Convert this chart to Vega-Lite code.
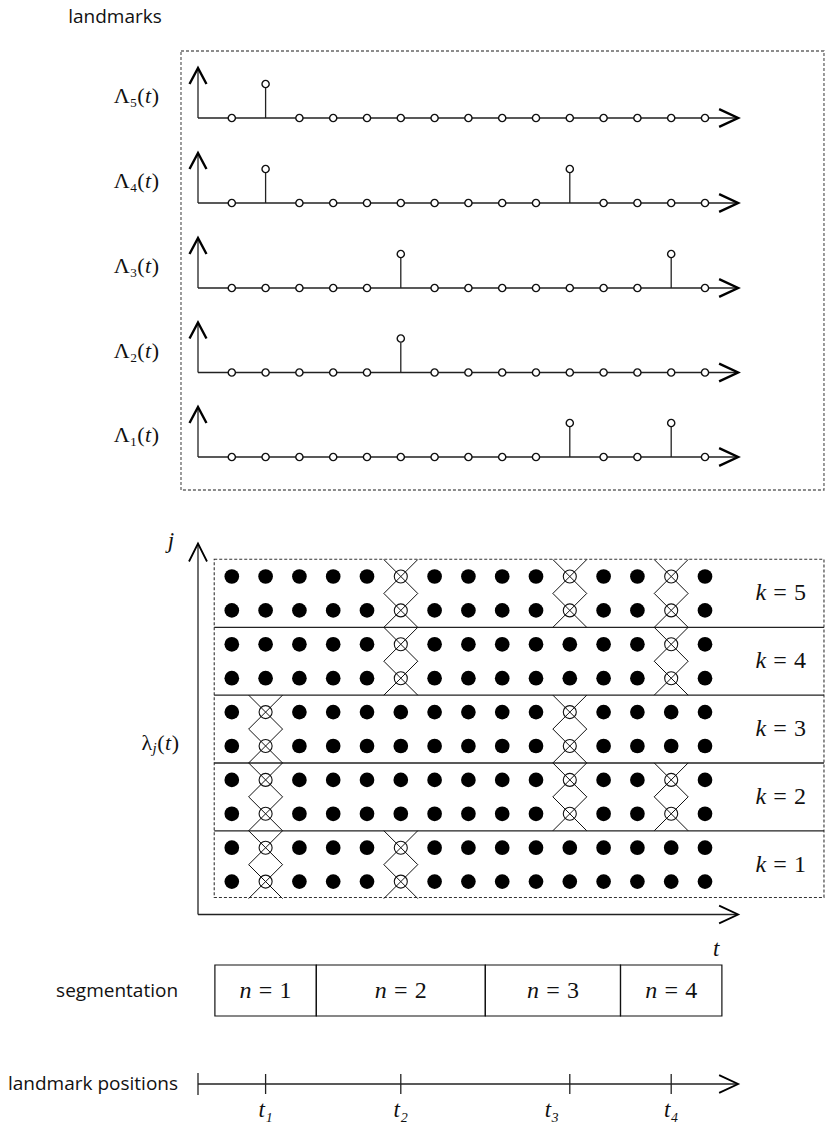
{
"$schema": "https://vega.github.io/schema/vega-lite/v6.json",
"width": 826, "height": 1124,
"autosize": {"type": "fit", "contains": "padding"},
"padding": 0,
"background": "white",
"config": {"view": {"stroke": null}},
"datasets": {
"grid": [
{"t":1,"y":576.5,"c":0},{"t":2,"y":576.5,"c":0},{"t":3,"y":576.5,"c":0},{"t":4,"y":576.5,"c":0},{"t":5,"y":576.5,"c":0},{"t":6,"y":576.5,"c":1},{"t":7,"y":576.5,"c":0},{"t":8,"y":576.5,"c":0},{"t":9,"y":576.5,"c":0},{"t":10,"y":576.5,"c":0},{"t":11,"y":576.5,"c":1},{"t":12,"y":576.5,"c":0},{"t":13,"y":576.5,"c":0},{"t":14,"y":576.5,"c":1},{"t":15,"y":576.5,"c":0},
{"t":1,"y":610.4,"c":0},{"t":2,"y":610.4,"c":0},{"t":3,"y":610.4,"c":0},{"t":4,"y":610.4,"c":0},{"t":5,"y":610.4,"c":0},{"t":6,"y":610.4,"c":1},{"t":7,"y":610.4,"c":0},{"t":8,"y":610.4,"c":0},{"t":9,"y":610.4,"c":0},{"t":10,"y":610.4,"c":0},{"t":11,"y":610.4,"c":1},{"t":12,"y":610.4,"c":0},{"t":13,"y":610.4,"c":0},{"t":14,"y":610.4,"c":1},{"t":15,"y":610.4,"c":0},
{"t":1,"y":644.3,"c":0},{"t":2,"y":644.3,"c":0},{"t":3,"y":644.3,"c":0},{"t":4,"y":644.3,"c":0},{"t":5,"y":644.3,"c":0},{"t":6,"y":644.3,"c":1},{"t":7,"y":644.3,"c":0},{"t":8,"y":644.3,"c":0},{"t":9,"y":644.3,"c":0},{"t":10,"y":644.3,"c":0},{"t":11,"y":644.3,"c":0},{"t":12,"y":644.3,"c":0},{"t":13,"y":644.3,"c":0},{"t":14,"y":644.3,"c":1},{"t":15,"y":644.3,"c":0},
{"t":1,"y":678.2,"c":0},{"t":2,"y":678.2,"c":0},{"t":3,"y":678.2,"c":0},{"t":4,"y":678.2,"c":0},{"t":5,"y":678.2,"c":0},{"t":6,"y":678.2,"c":1},{"t":7,"y":678.2,"c":0},{"t":8,"y":678.2,"c":0},{"t":9,"y":678.2,"c":0},{"t":10,"y":678.2,"c":0},{"t":11,"y":678.2,"c":0},{"t":12,"y":678.2,"c":0},{"t":13,"y":678.2,"c":0},{"t":14,"y":678.2,"c":1},{"t":15,"y":678.2,"c":0},
{"t":1,"y":712.1,"c":0},{"t":2,"y":712.1,"c":1},{"t":3,"y":712.1,"c":0},{"t":4,"y":712.1,"c":0},{"t":5,"y":712.1,"c":0},{"t":6,"y":712.1,"c":0},{"t":7,"y":712.1,"c":0},{"t":8,"y":712.1,"c":0},{"t":9,"y":712.1,"c":0},{"t":10,"y":712.1,"c":0},{"t":11,"y":712.1,"c":1},{"t":12,"y":712.1,"c":0},{"t":13,"y":712.1,"c":0},{"t":14,"y":712.1,"c":0},{"t":15,"y":712.1,"c":0},
{"t":1,"y":746,"c":0},{"t":2,"y":746,"c":1},{"t":3,"y":746,"c":0},{"t":4,"y":746,"c":0},{"t":5,"y":746,"c":0},{"t":6,"y":746,"c":0},{"t":7,"y":746,"c":0},{"t":8,"y":746,"c":0},{"t":9,"y":746,"c":0},{"t":10,"y":746,"c":0},{"t":11,"y":746,"c":1},{"t":12,"y":746,"c":0},{"t":13,"y":746,"c":0},{"t":14,"y":746,"c":0},{"t":15,"y":746,"c":0},
{"t":1,"y":779.9,"c":0},{"t":2,"y":779.9,"c":1},{"t":3,"y":779.9,"c":0},{"t":4,"y":779.9,"c":0},{"t":5,"y":779.9,"c":0},{"t":6,"y":779.9,"c":0},{"t":7,"y":779.9,"c":0},{"t":8,"y":779.9,"c":0},{"t":9,"y":779.9,"c":0},{"t":10,"y":779.9,"c":0},{"t":11,"y":779.9,"c":1},{"t":12,"y":779.9,"c":0},{"t":13,"y":779.9,"c":0},{"t":14,"y":779.9,"c":1},{"t":15,"y":779.9,"c":0},
{"t":1,"y":813.8,"c":0},{"t":2,"y":813.8,"c":1},{"t":3,"y":813.8,"c":0},{"t":4,"y":813.8,"c":0},{"t":5,"y":813.8,"c":0},{"t":6,"y":813.8,"c":0},{"t":7,"y":813.8,"c":0},{"t":8,"y":813.8,"c":0},{"t":9,"y":813.8,"c":0},{"t":10,"y":813.8,"c":0},{"t":11,"y":813.8,"c":1},{"t":12,"y":813.8,"c":0},{"t":13,"y":813.8,"c":0},{"t":14,"y":813.8,"c":1},{"t":15,"y":813.8,"c":0},
{"t":1,"y":847.7,"c":0},{"t":2,"y":847.7,"c":1},{"t":3,"y":847.7,"c":0},{"t":4,"y":847.7,"c":0},{"t":5,"y":847.7,"c":0},{"t":6,"y":847.7,"c":1},{"t":7,"y":847.7,"c":0},{"t":8,"y":847.7,"c":0},{"t":9,"y":847.7,"c":0},{"t":10,"y":847.7,"c":0},{"t":11,"y":847.7,"c":0},{"t":12,"y":847.7,"c":0},{"t":13,"y":847.7,"c":0},{"t":14,"y":847.7,"c":0},{"t":15,"y":847.7,"c":0},
{"t":1,"y":881.6,"c":0},{"t":2,"y":881.6,"c":1},{"t":3,"y":881.6,"c":0},{"t":4,"y":881.6,"c":0},{"t":5,"y":881.6,"c":0},{"t":6,"y":881.6,"c":1},{"t":7,"y":881.6,"c":0},{"t":8,"y":881.6,"c":0},{"t":9,"y":881.6,"c":0},{"t":10,"y":881.6,"c":0},{"t":11,"y":881.6,"c":0},{"t":12,"y":881.6,"c":0},{"t":13,"y":881.6,"c":0},{"t":14,"y":881.6,"c":0},{"t":15,"y":881.6,"c":0}
],
"top": [
{"t":1,"y":118},{"t":2,"y":84},{"t":3,"y":118},{"t":4,"y":118},{"t":5,"y":118},{"t":6,"y":118},{"t":7,"y":118},{"t":8,"y":118},{"t":9,"y":118},{"t":10,"y":118},{"t":11,"y":118},{"t":12,"y":118},{"t":13,"y":118},{"t":14,"y":118},{"t":15,"y":118},
{"t":1,"y":203},{"t":2,"y":169},{"t":3,"y":203},{"t":4,"y":203},{"t":5,"y":203},{"t":6,"y":203},{"t":7,"y":203},{"t":8,"y":203},{"t":9,"y":203},{"t":10,"y":203},{"t":11,"y":169},{"t":12,"y":203},{"t":13,"y":203},{"t":14,"y":203},{"t":15,"y":203},
{"t":1,"y":288},{"t":2,"y":288},{"t":3,"y":288},{"t":4,"y":288},{"t":5,"y":288},{"t":6,"y":254},{"t":7,"y":288},{"t":8,"y":288},{"t":9,"y":288},{"t":10,"y":288},{"t":11,"y":288},{"t":12,"y":288},{"t":13,"y":288},{"t":14,"y":254},{"t":15,"y":288},
{"t":1,"y":372.5},{"t":2,"y":372.5},{"t":3,"y":372.5},{"t":4,"y":372.5},{"t":5,"y":372.5},{"t":6,"y":338.5},{"t":7,"y":372.5},{"t":8,"y":372.5},{"t":9,"y":372.5},{"t":10,"y":372.5},{"t":11,"y":372.5},{"t":12,"y":372.5},{"t":13,"y":372.5},{"t":14,"y":372.5},{"t":15,"y":372.5},
{"t":1,"y":457},{"t":2,"y":457},{"t":3,"y":457},{"t":4,"y":457},{"t":5,"y":457},{"t":6,"y":457},{"t":7,"y":457},{"t":8,"y":457},{"t":9,"y":457},{"t":10,"y":457},{"t":11,"y":423},{"t":12,"y":457},{"t":13,"y":457},{"t":14,"y":423},{"t":15,"y":457}
]
},
"encoding": {
"x": {"field": "t", "type": "quantitative", "scale": {"domain": [-5.858, 18.58], "nice": false, "zero": false}, "axis": null},
"y": {"field": "y", "type": "quantitative", "scale": {"domain": [0, 1124], "nice": false, "zero": false, "reverse": true}, "axis": null}
},
"layer": [
{"data": {"values": [{"t": -0.503, "y": 51, "t2": 18.52, "y2": 490}]},
 "mark": {"type": "rect", "fill": "white", "fillOpacity": 0, "stroke": "#666", "strokeWidth": 1.3, "strokeDash": [3, 2]},
 "encoding": {"x2": {"field": "t2"}, "y2": {"field": "y2"}}},
{"data": {"values": [{"t": 0.48, "y": 559.3, "t2": 18.52, "y2": 897.5}]},
 "mark": {"type": "rect", "fill": "white", "fillOpacity": 0, "stroke": "#333", "strokeWidth": 1.1, "strokeDash": [3, 2]},
 "encoding": {"x2": {"field": "t2"}, "y2": {"field": "y2"}}},
{"data": {"values": [{"t": 0.5, "y": 965, "t2": 3.5, "y2": 1016}, {"t": 3.5, "y": 965, "t2": 8.5, "y2": 1016}, {"t": 8.5, "y": 965, "t2": 12.5, "y2": 1016}, {"t": 12.5, "y": 965, "t2": 15.5, "y2": 1016}]},
 "mark": {"type": "rect", "fill": "white", "fillOpacity": 0, "stroke": "#111", "strokeWidth": 1.2},
 "encoding": {"x2": {"field": "t2"}, "y2": {"field": "y2"}}},
{"data": {"values": [
 {"t":0,"y":118,"t2":0,"y2":68},{"t":0,"y":118,"t2":15.95,"y2":118},
 {"t":0,"y":203,"t2":0,"y2":153},{"t":0,"y":203,"t2":15.95,"y2":203},
 {"t":0,"y":288,"t2":0,"y2":238},{"t":0,"y":288,"t2":15.95,"y2":288},
 {"t":0,"y":372.5,"t2":0,"y2":322.5},{"t":0,"y":372.5,"t2":15.95,"y2":372.5},
 {"t":0,"y":457,"t2":0,"y2":407},{"t":0,"y":457,"t2":15.95,"y2":457},
 {"t":2,"y":118,"t2":2,"y2":88},
 {"t":2,"y":203,"t2":2,"y2":173},{"t":11,"y":203,"t2":11,"y2":173},
 {"t":6,"y":288,"t2":6,"y2":258},{"t":14,"y":288,"t2":14,"y2":258},
 {"t":6,"y":372.5,"t2":6,"y2":342.5},
 {"t":11,"y":457,"t2":11,"y2":427},{"t":14,"y":457,"t2":14,"y2":427},
 {"t":0,"y":914.5,"t2":0,"y2":543.5},{"t":0,"y":914.5,"t2":15.95,"y2":914.5},
 {"t":0.48,"y":627.4,"t2":18.52,"y2":627.4},{"t":0.48,"y":695.2,"t2":18.52,"y2":695.2},
 {"t":0.48,"y":763,"t2":18.52,"y2":763},{"t":0.48,"y":830.8,"t2":18.52,"y2":830.8},
 {"t":0,"y":1084,"t2":15.95,"y2":1084},{"t":0,"y":1073,"t2":0,"y2":1095},
 {"t":2,"y":1074,"t2":2,"y2":1094},{"t":6,"y":1074,"t2":6,"y2":1094},
 {"t":11,"y":1074,"t2":11,"y2":1094},{"t":14,"y":1074,"t2":14,"y2":1094}
 ]},
 "mark": {"type": "rule", "stroke": "#222", "strokeWidth": 1.3},
 "encoding": {"x2": {"field": "t2"}, "y2": {"field": "y2"}}},
{"data": {"name": "top"},
 "mark": {"type": "point", "shape": "circle", "size": 52, "filled": true, "fill": "white", "stroke": "#111", "strokeWidth": 1.4, "opacity": 1}},
{"data": {"name": "grid"}, "transform": [{"filter": "datum.c == 0"}],
 "mark": {"type": "point", "shape": "circle", "size": 215, "filled": true, "fill": "black", "strokeWidth": 0, "opacity": 1}},
{"data": {"name": "grid"}, "transform": [{"filter": "datum.c == 1"}],
 "mark": {"type": "point", "shape": "circle", "size": 170, "filled": true, "fill": "white", "stroke": "#111", "strokeWidth": 1.1, "opacity": 1}},
{"data": {"name": "grid"}, "transform": [{"filter": "datum.c == 1"}],
 "mark": {"type": "point", "shape": "M-1,-1L1,1M-1,1L1,-1", "size": 1156, "filled": false, "stroke": "#111", "strokeWidth": 1, "opacity": 1}},
{"data": {"values": [{"t":15.98,"y":118},{"t":15.98,"y":203},{"t":15.98,"y":288},{"t":15.98,"y":372.5},{"t":15.98,"y":457}]},
 "mark": {"type": "point", "shape": "M-1,-0.47L0,0L-1,0.47", "size": 1444, "filled": false, "stroke": "black", "strokeWidth": 2.4, "opacity": 1}},
{"data": {"values": [{"t":0,"y":68},{"t":0,"y":153},{"t":0,"y":238},{"t":0,"y":322.5},{"t":0,"y":407}]},
 "mark": {"type": "point", "shape": "M-0.53,1L0,0L0.53,1", "size": 1024, "filled": false, "stroke": "black", "strokeWidth": 2.4, "opacity": 1}},
{"data": {"values": [{"t":15.98,"y":914.5},{"t":15.98,"y":1084}]},
 "mark": {"type": "point", "shape": "M-1,-0.47L0,0L-1,0.47", "size": 1444, "filled": false, "stroke": "black", "strokeWidth": 1.8, "opacity": 1}},
{"data": {"values": [{"t":0,"y":543.5}]},
 "mark": {"type": "point", "shape": "M-0.5,1L0,0L0.5,1", "size": 1296, "filled": false, "stroke": "black", "strokeWidth": 1.8, "opacity": 1}},
{"data": {"values": [{"t":-1.07,"y":17,"label":"landmarks"},{"t":-0.59,"y":991,"label":"segmentation"},{"t":-0.59,"y":1084,"label":"landmark positions"}]},
 "mark": {"type": "text", "align": "right", "baseline": "middle", "font": "Open Sans", "fontSize": 19, "color": "#111"},
 "encoding": {"text": {"field": "label"}}},
{"data": {"values": [
 {"t":-1.15,"y":96,"a":"Λ₅(","b":"t","c":")"},
 {"t":-1.15,"y":181,"a":"Λ₄(","b":"t","c":")"},
 {"t":-1.15,"y":266,"a":"Λ₃(","b":"t","c":")"},
 {"t":-1.15,"y":350.5,"a":"Λ₂(","b":"t","c":")"},
 {"t":-1.15,"y":435,"a":"Λ₁(","b":"t","c":")"}
 ]},
 "layer": [
 {"mark": {"type": "text", "align": "right", "baseline": "middle", "font": "Liberation Serif", "fontSize": 22, "color": "#111"}, "encoding": {"text": {"field": "c"}}},
 {"mark": {"type": "text", "align": "right", "baseline": "middle", "dx": -8, "font": "Liberation Serif", "fontStyle": "italic", "fontSize": 22, "color": "#111"}, "encoding": {"text": {"field": "b"}}},
 {"mark": {"type": "text", "align": "right", "baseline": "middle", "dx": -14.5, "font": "Liberation Serif", "fontSize": 22, "color": "#111"}, "encoding": {"text": {"field": "a"}}}
 ]},
{"data": {"values": [{"t":-0.56,"y":743,"a":"λ","s":"j","b":"t","o":"(","c":")"}]},
 "layer": [
 {"mark": {"type": "text", "align": "right", "baseline": "middle", "font": "Liberation Serif", "fontSize": 22, "color": "#111"}, "encoding": {"text": {"field": "c"}}},
 {"mark": {"type": "text", "align": "right", "baseline": "middle", "dx": -8, "font": "Liberation Serif", "fontStyle": "italic", "fontSize": 22, "color": "#111"}, "encoding": {"text": {"field": "b"}}},
 {"mark": {"type": "text", "align": "right", "baseline": "middle", "dx": -14.5, "font": "Liberation Serif", "fontSize": 22, "color": "#111"}, "encoding": {"text": {"field": "o"}}},
 {"mark": {"type": "text", "align": "right", "baseline": "middle", "dx": -22.5, "dy": 5, "font": "Liberation Serif", "fontStyle": "italic", "fontSize": 15, "color": "#111"}, "encoding": {"text": {"field": "s"}}},
 {"mark": {"type": "text", "align": "right", "baseline": "middle", "dx": -27, "font": "Liberation Serif", "fontSize": 22, "color": "#111"}, "encoding": {"text": {"field": "a"}}}
 ]},
{"data": {"values": [{"t":-0.8,"y":541,"label":"j"},{"t":15.33,"y":949,"label":"t"},{"t":2,"y":1110,"label":"t₁"},{"t":6,"y":1110,"label":"t₂"},{"t":10.47,"y":1110,"label":"t₃"},{"t":14,"y":1110,"label":"t₄"}]},
 "mark": {"type": "text", "align": "center", "baseline": "middle", "font": "Liberation Serif", "fontStyle": "italic", "fontSize": 23, "color": "#111"},
 "encoding": {"text": {"field": "label"}}},
{"data": {"values": [
 {"t":17.22,"y":593.4,"v":"k","d":"5"},{"t":17.22,"y":661.2,"v":"k","d":"4"},{"t":17.22,"y":729,"v":"k","d":"3"},{"t":17.22,"y":796.9,"v":"k","d":"2"},{"t":17.22,"y":864.7,"v":"k","d":"1"},
 {"t":2,"y":990.5,"v":"n","d":"1"},{"t":6,"y":990.5,"v":"n","d":"2"},{"t":10.5,"y":990.5,"v":"n","d":"3"},{"t":14,"y":990.5,"v":"n","d":"4"}
 ]},
 "layer": [
 {"mark": {"type": "text", "align": "right", "baseline": "middle", "dx": -14, "font": "Liberation Serif", "fontStyle": "italic", "fontSize": 24, "color": "#111"}, "encoding": {"text": {"field": "v"}}},
 {"mark": {"type": "text", "align": "center", "baseline": "middle", "text": "=", "font": "Liberation Serif", "fontSize": 24, "color": "#111"}},
 {"mark": {"type": "text", "align": "left", "baseline": "middle", "dx": 14, "font": "Liberation Serif", "fontSize": 24, "color": "#111"}, "encoding": {"text": {"field": "d"}}}
 ]}
]
}
